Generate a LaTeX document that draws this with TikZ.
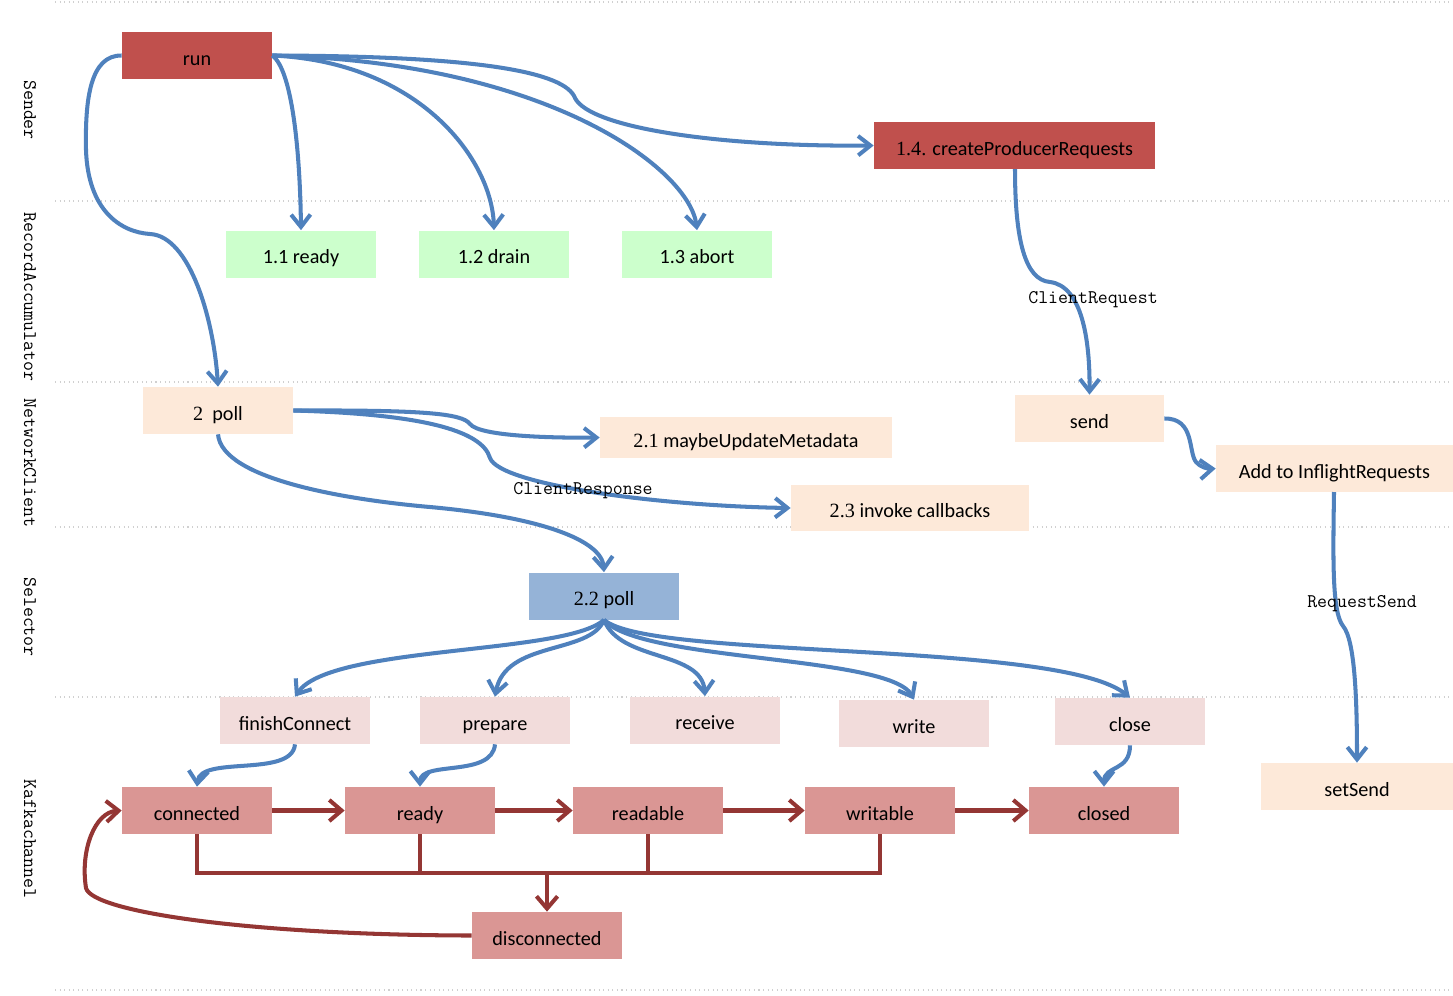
\documentclass[tikz,border=0pt]{standalone}
\usepackage{fontspec}
\setmainfont{Carlito}
\newfontfamily\numf{Liberation Serif}
\usetikzlibrary{arrows.meta}
\definecolor{cred}{HTML}{C0504D}
\definecolor{cgreen}{HTML}{CCFFCC}
\definecolor{cpeach}{HTML}{FDE9D9}
\definecolor{cselblue}{HTML}{95B3D7}
\definecolor{cpink}{HTML}{F2DCDB}
\definecolor{crose}{HTML}{DA9694}
\definecolor{cblue}{HTML}{4F81BD}
\definecolor{cdred}{HTML}{943634}
\definecolor{cgrid}{HTML}{D0D0D0}
\begin{document}
\begin{tikzpicture}[x=0.02cm,y=-0.02cm,
  box/.style={minimum width=3cm,minimum height=0.94cm,inner sep=0pt,text height=1.1em,text depth=0pt,font=\fontsize{11.5}{13}\selectfont,text=black},
  redbox/.style={box,fill=cred},
  greenbox/.style={box,fill=cgreen},
  peachbox/.style={box,fill=cpeach},
  selbox/.style={box,fill=cselblue},
  pinkbox/.style={box,fill=cpink},
  rosebox/.style={box,fill=crose},
  lane/.style={rotate=-90,font=\ttfamily\fontsize{11}{13}\selectfont,inner sep=0pt},
  clabel/.style={font=\ttfamily\fontsize{11}{13}\selectfont,inner sep=0pt},
  barrow/.style={draw=cblue,line width=2.3pt,-{Straight Barb[length=7pt,width=11pt]}},
  rarrow/.style={draw=cdred,line width=2.3pt,-{Straight Barb[length=7pt,width=12pt]}},
  rline/.style={draw=cdred,line width=2.3pt},
  gridline/.style={draw=cgrid,dotted,line width=0.6pt}
]
\useasboundingbox (0,0) rectangle (1453,995);

% swimlane separators
\foreach \yy in {2,201,382,527,697,990}
  \draw[gridline] (55,\yy) -- (1453,\yy);

% lane labels
\node[lane] (lSender) at (30,110) {Sender};
\node[lane] (lRA) at (30,297) {RecordAccumulator};
\node[lane] (lNC) at (30,463) {NetworkClient};
\node[lane] (lSel) at (30,617) {Selector};
\node[lane] (lKC) at (30,839) {Kafkachannel};

% nodes
\node[redbox] (run) at (197,55.5) {run};
\node[greenbox] (r11) at (301,254) {1.1 ready};
\node[greenbox] (r12) at (494,254) {1.2 drain};
\node[greenbox] (r13) at (697,254) {1.3 abort};
\node[redbox,minimum width=5.62cm] (cpr) at (1014.5,145.5) {{\numf 1.4.} createProducerRequests};
\node[peachbox] (p2) at (218,410.5) {{\numf 2}\ \ poll};
\node[peachbox,minimum width=5.84cm,minimum height=0.82cm] (mu) at (746,437.5) {{\numf 2.1} maybeUpdateMetadata};
\node[peachbox,minimum width=4.76cm,minimum height=0.92cm] (cb) at (910,508) {{\numf 2.3} invoke callbacks};
\node[peachbox,minimum width=2.98cm] (snd) at (1089.5,418.5) {send};
\node[peachbox,minimum width=4.74cm] (add) at (1334.5,468.5) {Add to InflightRequests};
\node[peachbox,minimum width=3.84cm] (ss) at (1357,786.5) {setSend};
\node[selbox] (sel) at (604,596) {{\numf 2.2} poll};
\node[pinkbox] (fc) at (295,720.5) {finishConnect};
\node[pinkbox] (prep) at (495,720.5) {prepare};
\node[pinkbox] (recv) at (705,720) {receive};
\node[pinkbox] (wr) at (914,723.5) {write};
\node[pinkbox] (cls) at (1130,721.5) {close};
\node[rosebox] (con) at (197,810.5) {connected};
\node[rosebox] (rdy) at (420,810.5) {ready};
\node[rosebox] (rdb) at (648,810.5) {readable};
\node[rosebox] (wrb) at (880,810.5) {writable};
\node[rosebox] (cld) at (1104,810.5) {closed};
\node[rosebox] (dis) at (547,935.5) {disconnected};

% blue connectors
\draw[barrow] (run.west) .. controls (90,55) and (85,100) .. (86,150)
  .. controls (88,210) and (120,232) .. (150,234)
  .. controls (190,236) and (214,320) .. (p2.north);
\draw[barrow] (run.east) .. controls (292,70) and (300,150) .. (r11.north);
\draw[barrow] (run.east) .. controls (420,62) and (492,160) .. (r12.north);
\draw[barrow] (run.east) .. controls (550,62) and (690,170) .. (r13.north);
\draw[barrow] (run.east) .. controls (480,56) and (565,72) .. (575,98)
  .. controls (590,128) and (720,147) .. (cpr.west);
\draw[barrow] (1015,169) .. controls (1015,240) and (1025,280) .. (1050,282)
  .. controls (1082,286) and (1090,340) .. (snd.north);
\draw[barrow] (snd.east) .. controls (1195,418) and (1188,452) .. (1196,462)
  .. controls (1200,467) and (1208,469) .. (add.west);
\draw[barrow] (1334,492) .. controls (1333,560) and (1332,612) .. (1343,626)
  .. controls (1355,640) and (1357,700) .. (ss.north);
\draw[barrow] (p2.east) .. controls (420,410) and (462,413) .. (470,424)
  .. controls (480,437) and (560,438) .. (mu.west);
\draw[barrow] (p2.east) .. controls (420,414) and (482,430) .. (490,458)
  .. controls (500,485) and (660,506) .. (cb.west);
\draw[barrow] (p2.south) .. controls (222,480) and (350,500) .. (430,507)
  .. controls (540,517) and (602,540) .. (sel.north);
\draw[barrow] (sel.south) .. controls (565,655) and (330,645) .. (fc.north);
\draw[barrow] (sel.south) .. controls (590,655) and (505,640) .. (prep.north);
\draw[barrow] (sel.south) .. controls (620,662) and (702,650) .. (recv.north);
\draw[barrow] (sel.south) .. controls (640,662) and (890,655) .. (wr.north);
\draw[barrow] (sel.south) .. controls (650,660) and (1060,640) .. (cls.north);
\draw[barrow] (fc.south) .. controls (292,778) and (200,755) .. (con.north);
\draw[barrow] (prep.south) .. controls (492,778) and (420,760) .. (rdy.north);
\draw[barrow] (cls.south) .. controls (1130,772) and (1104,765) .. (cld.north);

% connector labels
\node[clabel] (lcreq) at (1093,300) {ClientRequest};
\node[clabel] (lcresp) at (583,491) {ClientResponse};
\node[clabel] (lrs) at (1362,604) {RequestSend};

% red state machine
\draw[rarrow] (con.east) -- (rdy.west);
\draw[rarrow] (rdy.east) -- (rdb.west);
\draw[rarrow] (rdb.east) -- (wrb.west);
\draw[rarrow] (wrb.east) -- (cld.west);
\coordinate (bus) at (0,873);
\draw[rline,line join=miter] (con.south) -- (con.south |- bus) -- (wrb.south |- bus) -- (wrb.south);
\draw[rline] (rdy.south) -- (rdy.south |- bus);
\draw[rline] (rdb.south) -- (rdb.south |- bus);
\draw[rarrow] (dis.north |- bus) -- (dis.north);
\draw[rarrow] (dis.west) .. controls (250,935) and (92,912) .. (86,888)
  .. controls (80,850) and (95,812) .. (con.west);
\end{tikzpicture}
\end{document}
